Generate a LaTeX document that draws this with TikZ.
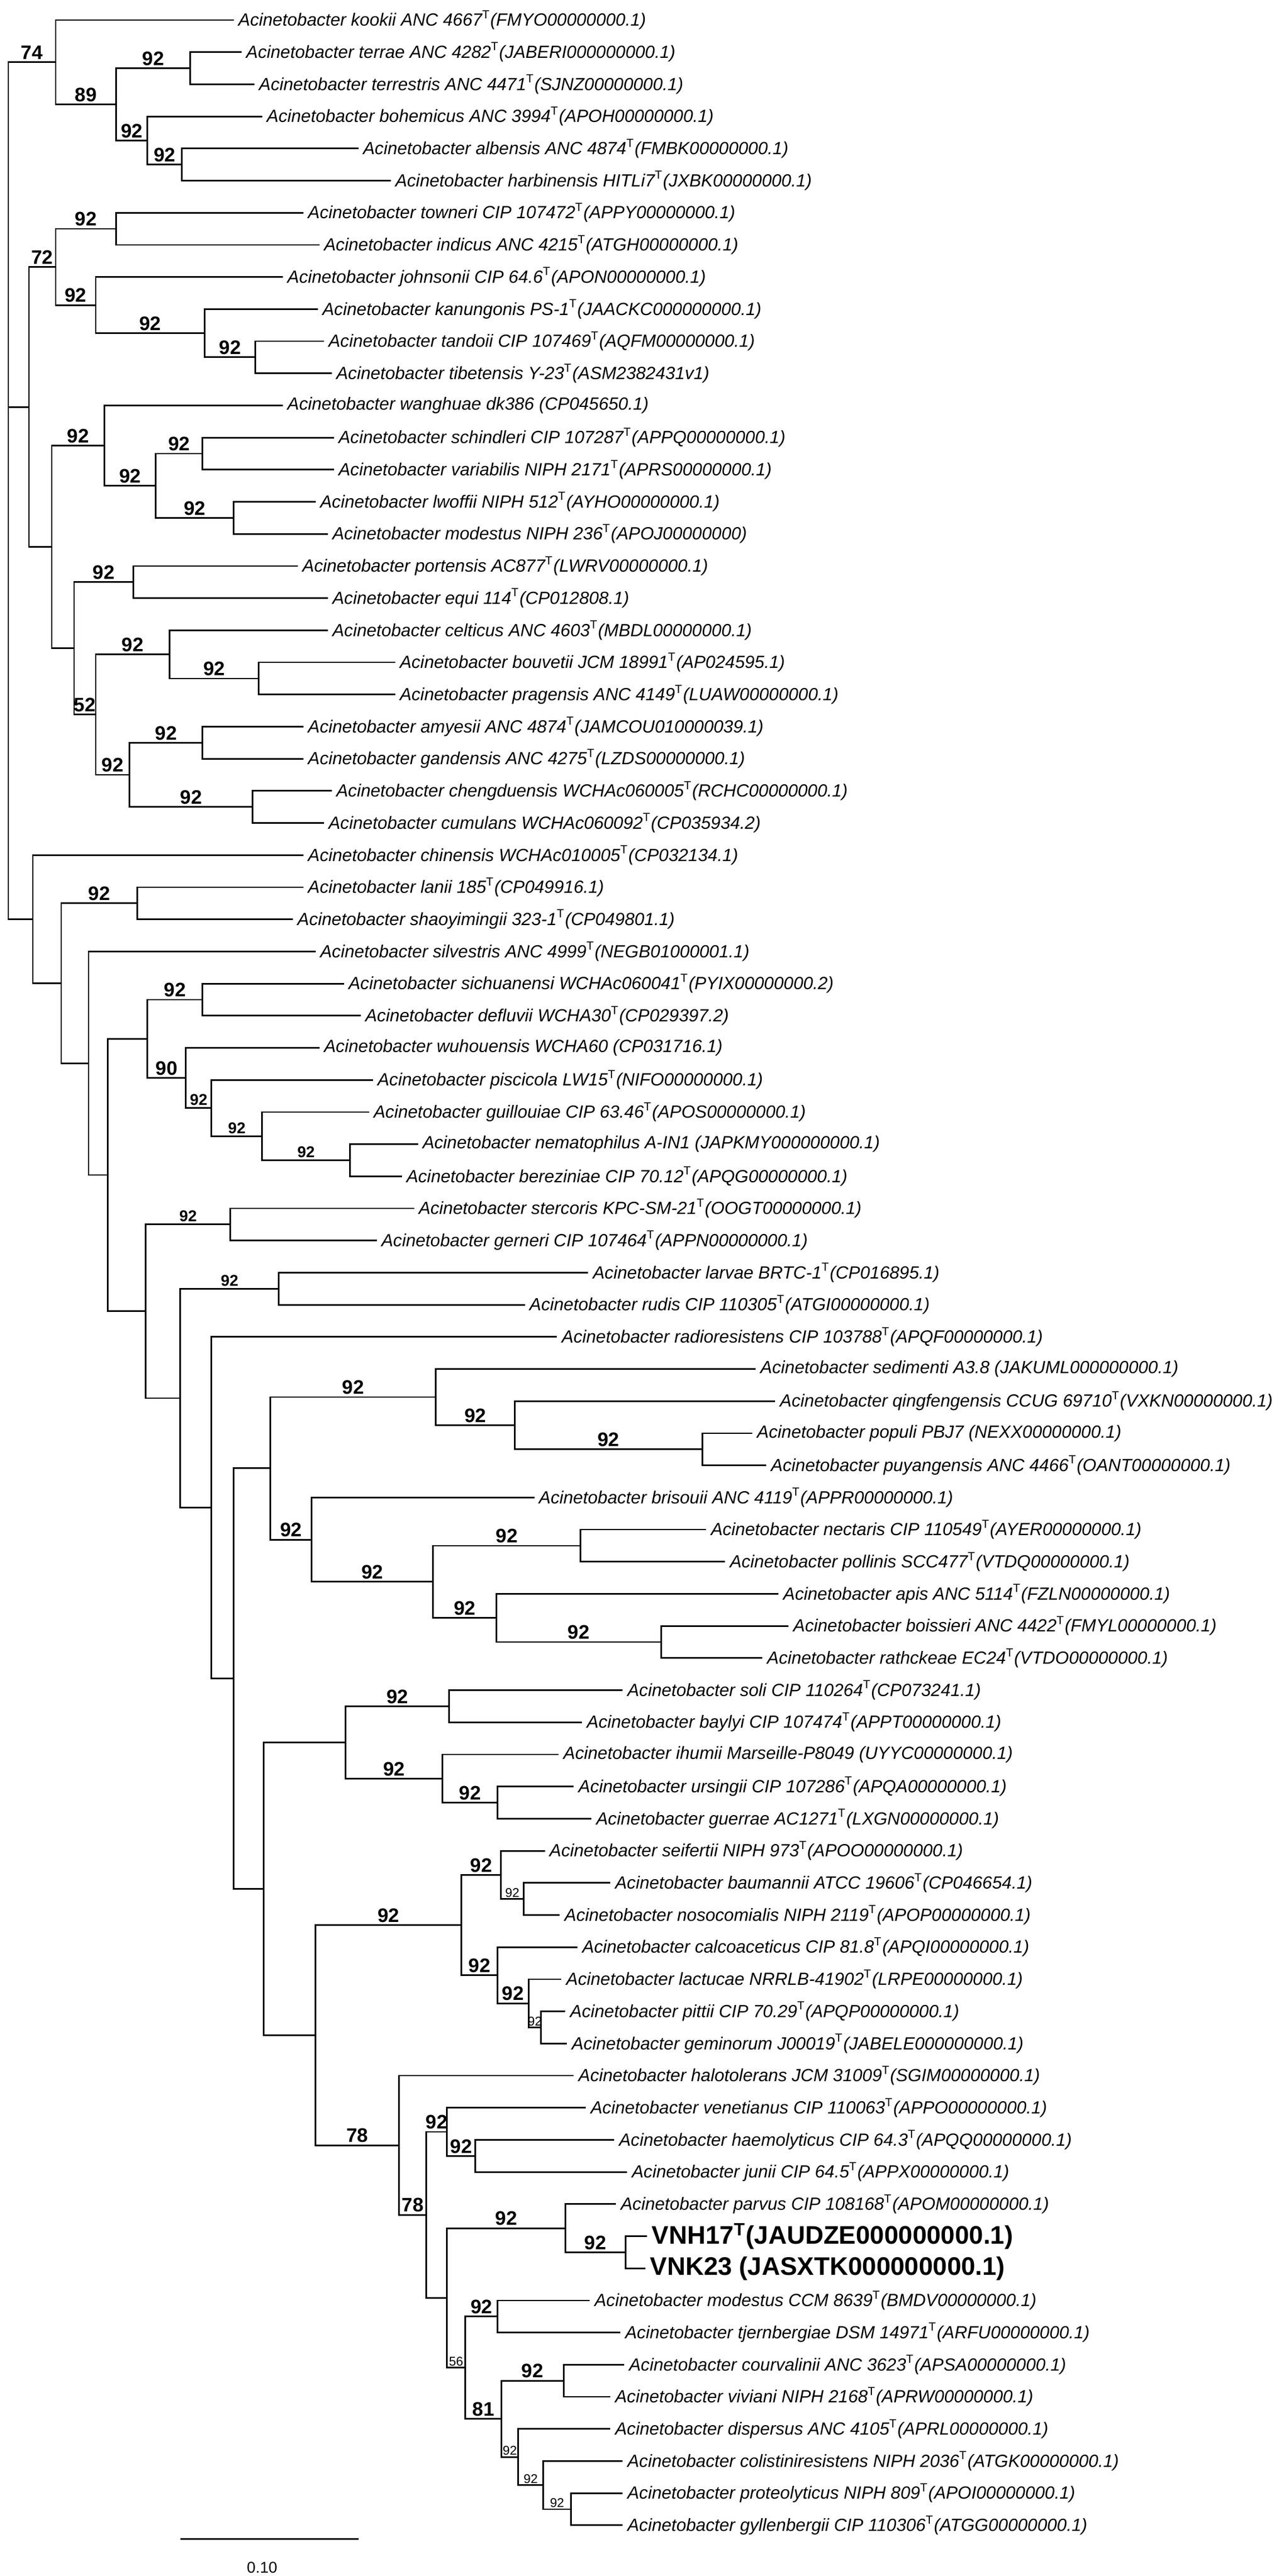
\documentclass[tikz,border=0pt]{standalone}
\usepackage{fontspec}
\setmainfont{Liberation Sans}
\usepackage{tikz}
\newcommand{\ty}{\textsuperscript{\upshape T}}
\newcommand{\ac}{Acinetobacter}
\tikzset{
  leaf/.style={anchor=west, inner xsep=2pt, inner ysep=0pt, font=\fontsize{9}{10}\selectfont\itshape},
  strain/.style={anchor=west, inner xsep=2pt, inner ysep=0pt, font=\fontsize{13}{14}\selectfont\bfseries},
  bs/.style={above, inner sep=1pt, font=\fontsize{10}{11}\selectfont\bfseries},
  bsm/.style={above, inner sep=1pt, font=\fontsize{8}{9}\selectfont\bfseries},
  bss/.style={above, inner sep=0.5pt, font=\fontsize{6.5}{7}\selectfont},
  br/.style={line width=0.8pt}
}
\begin{document}
\begin{tikzpicture}[x=0.01cm, y=-0.577cm, br]
\useasboundingbox (0,0.376) rectangle (2298,80.58);
% leaves
\node[leaf] (kookii) at (420,1) {\ac{} kookii ANC 4667\ty(FMYO00000000.1)};
\node[leaf] (terrae) at (434,2) {\ac{} terrae ANC 4282\ty(JABERI000000000.1)};
\node[leaf] (terrestris) at (457,3) {\ac{} terrestris ANC 4471\ty(SJNZ00000000.1)};
\node[leaf] (bohemicus) at (471,4) {\ac{} bohemicus ANC 3994\ty(APOH00000000.1)};
\node[leaf] (albensis) at (644,5) {\ac{} albensis ANC 4874\ty(FMBK00000000.1)};
\node[leaf] (harbinensis) at (702,6) {\ac{} harbinensis HITLi7\ty(JXBK00000000.1)};
\node[leaf] (towneri) at (545,7) {\ac{} towneri CIP 107472\ty(APPY00000000.1)};
\node[leaf] (indicus) at (574,8) {\ac{} indicus ANC 4215\ty(ATGH00000000.1)};
\node[leaf] (johnsonii) at (508,9) {\ac{} johnsonii CIP 64.6\ty(APON00000000.1)};
\node[leaf] (kanungonis) at (571,10) {\ac{} kanungonis PS-1\ty(JAACKC000000000.1)};
\node[leaf] (tandoii) at (582,11) {\ac{} tandoii CIP 107469\ty(AQFM00000000.1)};
\node[leaf] (tibetensis) at (596,12) {\ac{} tibetensis Y-23\ty(ASM2382431v1)};
\node[leaf] (wanghuae) at (508,13) {\ac{} wanghuae dk386 (CP045650.1)};
\node[leaf] (schindleri) at (600,14) {\ac{} schindleri CIP 107287\ty(APPQ00000000.1)};
\node[leaf] (variabilis) at (600,15) {\ac{} variabilis NIPH 2171\ty(APRS00000000.1)};
\node[leaf] (lwoffii) at (567,16) {\ac{} lwoffii NIPH 512\ty(AYHO00000000.1)};
\node[leaf] (modestusN) at (589,17) {\ac{} modestus NIPH 236\ty(APOJ00000000)};
\node[leaf] (portensis) at (535,18) {\ac{} portensis AC877\ty(LWRV00000000.1)};
\node[leaf] (equi) at (589,19) {\ac{} equi 114\ty(CP012808.1)};
\node[leaf] (celticus) at (589,20) {\ac{} celticus ANC 4603\ty(MBDL00000000.1)};
\node[leaf] (bouvetii) at (710,21) {\ac{} bouvetii JCM 18991\ty(AP024595.1)};
\node[leaf] (pragensis) at (710,22) {\ac{} pragensis ANC 4149\ty(LUAW00000000.1)};
\node[leaf] (amyesii) at (545,23) {\ac{} amyesii ANC 4874\ty(JAMCOU010000039.1)};
\node[leaf] (gandensis) at (545,24) {\ac{} gandensis ANC 4275\ty(LZDS00000000.1)};
\node[leaf] (chengduensis) at (596,25) {\ac{} chengduensis WCHAc060005\ty(RCHC00000000.1)};
\node[leaf] (cumulans) at (582,26) {\ac{} cumulans WCHAc060092\ty(CP035934.2)};
\node[leaf] (chinensis) at (545,27) {\ac{} chinensis WCHAc010005\ty(CP032134.1)};
\node[leaf] (lanii) at (545,28) {\ac{} lanii 185\ty(CP049916.1)};
\node[leaf] (shaoyimingii) at (526,29) {\ac{} shaoyimingii 323-1\ty(CP049801.1)};
\node[leaf] (silvestris) at (567,30) {\ac{} silvestris ANC 4999\ty(NEGB01000001.1)};
\node[leaf] (sichuanensi) at (618,31) {\ac{} sichuanensi WCHAc060041\ty(PYIX00000000.2)};
\node[leaf] (defluvii) at (648,32) {\ac{} defluvii WCHA30\ty(CP029397.2)};
\node[leaf] (wuhouensis) at (574,33) {\ac{} wuhouensis WCHA60 (CP031716.1)};
\node[leaf] (piscicola) at (670,34) {\ac{} piscicola LW15\ty(NIFO00000000.1)};
\node[leaf] (guillouiae) at (663,35) {\ac{} guillouiae CIP 63.46\ty(APOS00000000.1)};
\node[leaf] (nematophilus) at (751,36) {\ac{} nematophilus A-IN1 (JAPKMY000000000.1)};
\node[leaf] (bereziniae) at (722,37) {\ac{} bereziniae CIP 70.12\ty(APQG00000000.1)};
\node[leaf] (stercoris) at (744,38) {\ac{} stercoris KPC-SM-21\ty(OOGT00000000.1)};
\node[leaf] (gerneri) at (677,39) {\ac{} gerneri CIP 107464\ty(APPN00000000.1)};
\node[leaf] (larvae) at (1057,40) {\ac{} larvae BRTC-1\ty(CP016895.1)};
\node[leaf] (rudis) at (943,41) {\ac{} rudis CIP 110305\ty(ATGI00000000.1)};
\node[leaf] (radioresistens) at (1001,42) {\ac{} radioresistens CIP 103788\ty(APQF00000000.1)};
\node[leaf] (sedimenti) at (1358,43) {\ac{} sedimenti A3.8 (JAKUML000000000.1)};
\node[leaf] (qingfengensis) at (1393,44) {\ac{} qingfengensis CCUG 69710\ty(VXKN00000000.1)};
\node[leaf] (populi) at (1352,45) {\ac{} populi PBJ7 (NEXX00000000.1)};
\node[leaf] (puyangensis) at (1377,46) {\ac{} puyangensis ANC 4466\ty(OANT00000000.1)};
\node[leaf] (brisouii) at (960,47) {\ac{} brisouii ANC 4119\ty(APPR00000000.1)};
\node[leaf] (nectaris) at (1269,48) {\ac{} nectaris CIP 110549\ty(AYER00000000.1)};
\node[leaf] (pollinis) at (1303,49) {\ac{} pollinis SCC477\ty(VTDQ00000000.1)};
\node[leaf] (apis) at (1399,50) {\ac{} apis ANC 5114\ty(FZLN00000000.1)};
\node[leaf] (boissieri) at (1417,51) {\ac{} boissieri ANC 4422\ty(FMYL00000000.1)};
\node[leaf] (rathckeae) at (1370,52) {\ac{} rathckeae EC24\ty(VTDO00000000.1)};
\node[leaf] (soli) at (1119,53) {\ac{} soli CIP 110264\ty(CP073241.1)};
\node[leaf] (baylyi) at (1046,54) {\ac{} baylyi CIP 107474\ty(APPT00000000.1)};
\node[leaf] (ihumii) at (1004,55) {\ac{} ihumii Marseille-P8049 (UYYC00000000.1)};
\node[leaf] (ursingii) at (1031,56) {\ac{} ursingii CIP 107286\ty(APQA00000000.1)};
\node[leaf] (guerrae) at (1063,57) {\ac{} guerrae AC1271\ty(LXGN00000000.1)};
\node[leaf] (seifertii) at (979,58) {\ac{} seifertii NIPH 973\ty(APOO00000000.1)};
\node[leaf] (baumannii) at (1097,59) {\ac{} baumannii ATCC 19606\ty(CP046654.1)};
\node[leaf] (nosocomialis) at (1006,60) {\ac{} nosocomialis NIPH 2119\ty(APOP00000000.1)};
\node[leaf] (calcoaceticus) at (1038,61) {\ac{} calcoaceticus CIP 81.8\ty(APQI00000000.1)};
\node[leaf] (lactucae) at (1009,62) {\ac{} lactucae NRRLB-41902\ty(LRPE00000000.1)};
\node[leaf] (pittii) at (1016,63) {\ac{} pittii CIP 70.29\ty(APQP00000000.1)};
\node[leaf] (geminorum) at (1019,64) {\ac{} geminorum J00019\ty(JABELE000000000.1)};
\node[leaf] (halotolerans) at (1031,65) {\ac{} halotolerans JCM 31009\ty(SGIM00000000.1)};
\node[leaf] (venetianus) at (1053,66) {\ac{} venetianus CIP 110063\ty(APPO00000000.1)};
\node[leaf] (haemolyticus) at (1104,67) {\ac{} haemolyticus CIP 64.3\ty(APQQ00000000.1)};
\node[leaf] (junii) at (1127,68) {\ac{} junii CIP 64.5\ty(APPX00000000.1)};
\node[leaf] (parvus) at (1107,69) {\ac{} parvus CIP 108168\ty(APOM00000000.1)};
\node[strain] (vnh) at (1163,70) {VNH17\ty(JAUDZE000000000.1)};
\node[strain] (vnk) at (1160,71) {VNK23 (JASXTK000000000.1)};
\node[leaf] (modestusC) at (1060,72) {\ac{} modestus CCM 8639\ty(BMDV00000000.1)};
\node[leaf] (tjernbergiae) at (1115,73) {\ac{} tjernbergiae DSM 14971\ty(ARFU00000000.1)};
\node[leaf] (courvalinii) at (1122,74) {\ac{} courvalinii ANC 3623\ty(APSA00000000.1)};
\node[leaf] (viviani) at (1097,75) {\ac{} viviani NIPH 2168\ty(APRW00000000.1)};
\node[leaf] (dispersus) at (1097,76) {\ac{} dispersus ANC 4105\ty(APRL00000000.1)};
\node[leaf] (colistin) at (1119,77) {\ac{} colistiniresistens NIPH 2036\ty(ATGK00000000.1)};
\node[leaf] (proteolyticus) at (1119,78) {\ac{} proteolyticus NIPH 809\ty(APOI00000000.1)};
\node[leaf] (gyllenbergii) at (1119,79) {\ac{} gyllenbergii CIP 110306\ty(ATGG00000000.1)};
% inner nodes
\coordinate (root) at (15,15.65);
\coordinate (n1) at (100,2.3125);
\coordinate (n2) at (209,3.625);
\coordinate (n3) at (342,2.5);
\coordinate (n4) at (265,4.75);
\coordinate (n5) at (327,5.5);
\coordinate (n9) at (52,13.047);
\coordinate (n6) at (100,8.6875);
\coordinate (n7) at (209,7.5);
\coordinate (n8) at (172,9.875);
\coordinate (nka) at (368,10.75);
\coordinate (nti) at (459,11.5);
\coordinate (n10) at (93,17.406);
\coordinate (n11) at (188,14.25);
\coordinate (nsl) at (280,15.5);
\coordinate (nsch) at (364,14.5);
\coordinate (nlw) at (420,16.5);
\coordinate (npe) at (133,20.5625);
\coordinate (npo) at (240,18.5);
\coordinate (n52) at (172,22.625);
\coordinate (nce) at (305,20.75);
\coordinate (nbo) at (465,21.5);
\coordinate (nag) at (233,24.5);
\coordinate (nam) at (364,23.5);
\coordinate (nch) at (454,25.5);
\coordinate (nL) at (59,28.995);
\coordinate (nla0) at (110,30.99);
\coordinate (nla) at (247,28.5);
\coordinate (nsv) at (159,33.48);
\coordinate (nsd0) at (194,36.96);
\coordinate (nsd) at (265,32.72);
\coordinate (nsi) at (364,31.5);
\coordinate (n90) at (334,33.9375);
\coordinate (npi) at (380,34.875);
\coordinate (ngu) at (471,35.75);
\coordinate (nne) at (629,36.5);
\coordinate (nst0) at (262,41.2);
\coordinate (nst) at (414,38.5);
\coordinate (nlr0) at (324,43.91);
\coordinate (nlr) at (501,40.5);
\coordinate (nra) at (380,47.32);
\coordinate (nrb) at (420,52.64);
\coordinate (nsb) at (486,46.09);
\coordinate (nse) at (783,43.875);
\coordinate (nqi) at (925,44.75);
\coordinate (npu) at (1262,45.5);
\coordinate (nbr) at (560,48.3125);
\coordinate (nnp) at (778,49.625);
\coordinate (nnc) at (1043,48.5);
\coordinate (nap) at (892,50.75);
\coordinate (nbs) at (1188,51.5);
\coordinate (nrc) at (474,59.18);
\coordinate (nsy) at (621,54.625);
\coordinate (nso) at (807,53.5);
\coordinate (nih) at (795,55.75);
\coordinate (nur) at (894,56.5);
\coordinate (nbig) at (567,63.74);
\coordinate (nacb) at (829,60.3125);
\coordinate (nsf) at (900,58.75);
\coordinate (nbn) at (941,59.5);
\coordinate (nca) at (894,61.875);
\coordinate (nlc) at (950,62.75);
\coordinate (npg) at (972,63.5);
\coordinate (n78a) at (717,67.168);
\coordinate (n78b) at (766,69.336);
\coordinate (nve) at (803,66.75);
\coordinate (nhj) at (854,67.5);
\coordinate (nlp) at (803,71.92);
\coordinate (npv) at (1016,69.75);
\coordinate (nvn) at (1124,70.5);
\coordinate (n56) at (836,74.09);
\coordinate (nmt) at (894,72.5);
\coordinate (n81) at (901,75.6875);
\coordinate (ncv) at (1013,74.5);
\coordinate (ndi) at (931,76.875);
\coordinate (nco) at (976,77.75);
\coordinate (ngy) at (1026,78.5);
% branches
\draw (root) |- node[bs,pos=0.75] {74} (n1);
\draw (root) |- (n9);
\draw (root) |- (nL);
\draw (n1) |- (kookii.west);
\draw (n1) |- node[bs,pos=0.75] {89} (n2);
\draw (n2) |- node[bs,pos=0.75] {92} (n3);
\draw (n2) |- node[bs,pos=0.75] {92} (n4);
\draw (n3) |- (terrae.west);
\draw (n3) |- (terrestris.west);
\draw (n4) |- (bohemicus.west);
\draw (n4) |- node[bs,pos=0.75] {92} (n5);
\draw (n5) |- (albensis.west);
\draw (n5) |- (harbinensis.west);
\draw (n9) |- node[bs,pos=0.75] {72} (n6);
\draw (n9) |- (n10);
\draw (n6) |- node[bs,pos=0.75] {92} (n7);
\draw (n6) |- node[bs,pos=0.75] {92} (n8);
\draw (n7) |- (towneri.west);
\draw (n7) |- (indicus.west);
\draw (n8) |- (johnsonii.west);
\draw (n8) |- node[bs,pos=0.75] {92} (nka);
\draw (nka) |- (kanungonis.west);
\draw (nka) |- node[bs,pos=0.75] {92} (nti);
\draw (nti) |- (tandoii.west);
\draw (nti) |- (tibetensis.west);
\draw (n10) |- node[bs,pos=0.75] {92} (n11);
\draw (n10) |- (npe);
\draw (n11) |- (wanghuae.west);
\draw (n11) |- node[bs,pos=0.75] {92} (nsl);
\draw (nsl) |- node[bs,pos=0.75] {92} (nsch);
\draw (nsl) |- node[bs,pos=0.75] {92} (nlw);
\draw (nsch) |- (schindleri.west);
\draw (nsch) |- (variabilis.west);
\draw (nlw) |- (lwoffii.west);
\draw (nlw) |- (modestusN.west);
\draw (npe) |- node[bs,pos=0.75] {92} (npo);
\draw (npe) |- node[bs,pos=0.75] {52} (n52);
\draw (npo) |- (portensis.west);
\draw (npo) |- (equi.west);
\draw (n52) |- node[bs,pos=0.75] {92} (nce);
\draw (n52) |- node[bs,pos=0.75] {92} (nag);
\draw (nce) |- (celticus.west);
\draw (nce) |- node[bs,pos=0.75] {92} (nbo);
\draw (nbo) |- (bouvetii.west);
\draw (nbo) |- (pragensis.west);
\draw (nag) |- node[bs,pos=0.75] {92} (nam);
\draw (nag) |- node[bs,pos=0.75] {92} (nch);
\draw (nam) |- (amyesii.west);
\draw (nam) |- (gandensis.west);
\draw (nch) |- (chengduensis.west);
\draw (nch) |- (cumulans.west);
\draw (nL) |- (chinensis.west);
\draw (nL) |- (nla0);
\draw (nla0) |- node[bs,pos=0.75] {92} (nla);
\draw (nla0) |- (nsv);
\draw (nla) |- (lanii.west);
\draw (nla) |- (shaoyimingii.west);
\draw (nsv) |- (silvestris.west);
\draw (nsv) |- (nsd0);
\draw (nsd0) |- (nsd);
\draw (nsd0) |- (nst0);
\draw (nsd) |- node[bs,pos=0.75] {92} (nsi);
\draw (nsd) |- node[bs,pos=0.75] {90} (n90);
\draw (nsi) |- (sichuanensi.west);
\draw (nsi) |- (defluvii.west);
\draw (n90) |- (wuhouensis.west);
\draw (n90) |- node[bsm,pos=0.75] {92} (npi);
\draw (npi) |- (piscicola.west);
\draw (npi) |- node[bsm,pos=0.75] {92} (ngu);
\draw (ngu) |- (guillouiae.west);
\draw (ngu) |- node[bsm,pos=0.75] {92} (nne);
\draw (nne) |- (nematophilus.west);
\draw (nne) |- (bereziniae.west);
\draw (nst0) |- node[bsm,pos=0.75] {92} (nst);
\draw (nst0) |- (nlr0);
\draw (nst) |- (stercoris.west);
\draw (nst) |- (gerneri.west);
\draw (nlr0) |- node[bsm,pos=0.75] {92} (nlr);
\draw (nlr0) |- (nra);
\draw (nlr) |- (larvae.west);
\draw (nlr) |- (rudis.west);
\draw (nra) |- (radioresistens.west);
\draw (nra) |- (nrb);
\draw (nrb) |- (nsb);
\draw (nrb) |- (nrc);
\draw (nsb) |- node[bs,pos=0.75] {92} (nse);
\draw (nsb) |- node[bs,pos=0.75] {92} (nbr);
\draw (nse) |- (sedimenti.west);
\draw (nse) |- node[bs,pos=0.75] {92} (nqi);
\draw (nqi) |- (qingfengensis.west);
\draw (nqi) |- node[bs,pos=0.75] {92} (npu);
\draw (npu) |- (populi.west);
\draw (npu) |- (puyangensis.west);
\draw (nbr) |- (brisouii.west);
\draw (nbr) |- node[bs,pos=0.75] {92} (nnp);
\draw (nnp) |- node[bs,pos=0.75] {92} (nnc);
\draw (nnp) |- node[bs,pos=0.75] {92} (nap);
\draw (nnc) |- (nectaris.west);
\draw (nnc) |- (pollinis.west);
\draw (nap) |- (apis.west);
\draw (nap) |- node[bs,pos=0.75] {92} (nbs);
\draw (nbs) |- (boissieri.west);
\draw (nbs) |- (rathckeae.west);
\draw (nrc) |- (nsy);
\draw (nrc) |- (nbig);
\draw (nsy) |- node[bs,pos=0.75] {92} (nso);
\draw (nsy) |- node[bs,pos=0.75] {92} (nih);
\draw (nso) |- (soli.west);
\draw (nso) |- (baylyi.west);
\draw (nih) |- (ihumii.west);
\draw (nih) |- node[bs,pos=0.75] {92} (nur);
\draw (nur) |- (ursingii.west);
\draw (nur) |- (guerrae.west);
\draw (nbig) |- node[bs,pos=0.75] {92} (nacb);
\draw (nbig) |- node[bs,pos=0.75] {78} (n78a);
\draw (nacb) |- node[bs,pos=0.75] {92} (nsf);
\draw (nacb) |- node[bs,pos=0.75] {92} (nca);
\draw (nsf) |- (seifertii.west);
\draw (nsf) |- node[bss,pos=0.75] {92} (nbn);
\draw (nbn) |- (baumannii.west);
\draw (nbn) |- (nosocomialis.west);
\draw (nca) |- (calcoaceticus.west);
\draw (nca) |- node[bs,pos=0.75] {92} (nlc);
\draw (nlc) |- (lactucae.west);
\draw (nlc) |- node[bss,pos=0.75] {92} (npg);
\draw (npg) |- (pittii.west);
\draw (npg) |- (geminorum.west);
\draw (n78a) |- (halotolerans.west);
\draw (n78a) |- node[bs,pos=0.75] {78} (n78b);
\draw (n78b) |- node[bs,pos=0.75] {92} (nve);
\draw (n78b) |- (nlp);
\draw (nve) |- (venetianus.west);
\draw (nve) |- node[bs,pos=0.75] {92} (nhj);
\draw (nhj) |- (haemolyticus.west);
\draw (nhj) |- (junii.west);
\draw (nlp) |- node[bs,pos=0.75] {92} (npv);
\draw (nlp) |- node[bss,pos=0.75] {56} (n56);
\draw (npv) |- (parvus.west);
\draw (npv) |- node[bs,pos=0.75] {92} (nvn);
\draw (nvn) |- (vnh.west);
\draw (nvn) |- (vnk.west);
\draw (n56) |- node[bs,pos=0.75] {92} (nmt);
\draw (n56) |- node[bs,pos=0.75] {81} (n81);
\draw (nmt) |- (modestusC.west);
\draw (nmt) |- (tjernbergiae.west);
\draw (n81) |- node[bs,pos=0.75] {92} (ncv);
\draw (n81) |- node[bss,pos=0.75] {92} (ndi);
\draw (ncv) |- (courvalinii.west);
\draw (ncv) |- (viviani.west);
\draw (ndi) |- (dispersus.west);
\draw (ndi) |- node[bss,pos=0.75] {92} (nco);
\draw (nco) |- (colistin.west);
\draw (nco) |- node[bss,pos=0.75] {92} (ngy);
\draw (ngy) |- (proteolyticus.west);
\draw (ngy) |- (gyllenbergii.west);
% scale bar
\coordinate (barL) at (324,79.42);
\coordinate (barR) at (644,79.42);
\draw (barL) -- (barR);
\node[font=\fontsize{8}{9}\selectfont] (barlabel) at (471,80.32) {0.10};
\end{tikzpicture}
\end{document}
